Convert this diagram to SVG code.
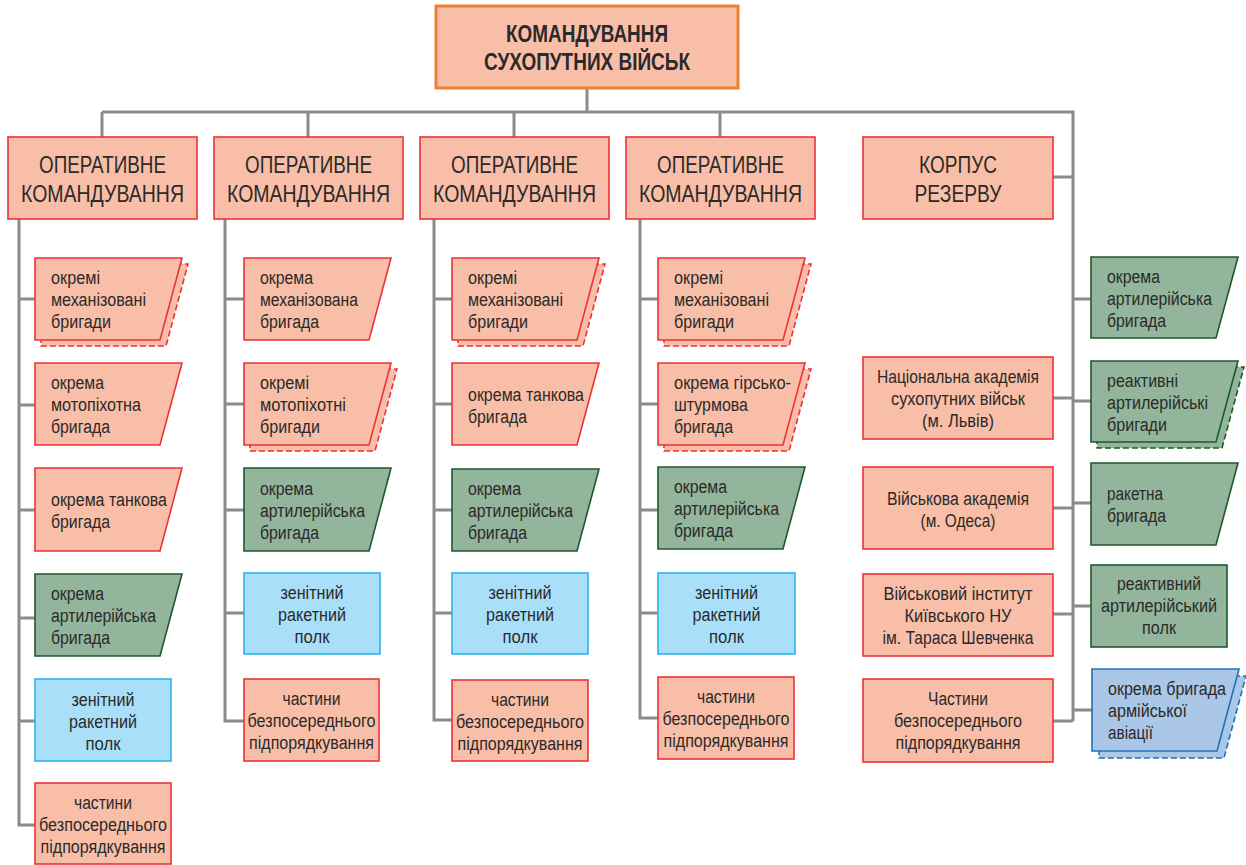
<svg xmlns="http://www.w3.org/2000/svg" width="1246" height="865" viewBox="0 0 1246 865">
<style>
text{font-family:"Liberation Sans Narrow","Liberation Sans",Arial,sans-serif;fill:#2b2a29}
.t{font-size:18px}
.h{font-size:24px;text-anchor:middle}
.ttl{font-size:23px;font-weight:bold;text-anchor:middle}
.c{text-anchor:middle}
.pk{fill:#f9bea7;stroke:#ec3238;stroke-width:1.6}
.pkd{fill:#f9bea7;stroke:#ec3238;stroke-width:1.6;stroke-dasharray:6 3}
.gr{fill:#93b59c;stroke:#1d5a2c;stroke-width:1.6}
.grd{fill:#93b59c;stroke:#1d5a2c;stroke-width:1.6;stroke-dasharray:6 3}
.bl{fill:#aadff9;stroke:#2ab4ea;stroke-width:1.6}
.av{fill:#abc7e8;stroke:#2471b6;stroke-width:1.6}
.avd{fill:#abc7e8;stroke:#2471b6;stroke-width:1.6;stroke-dasharray:6 3}
.top{fill:#f9bea7;stroke:#ec8231;stroke-width:3}
.ln{fill:none;stroke:#8b8b8d;stroke-width:3}
</style>
<g id="connectors" class="ln">
<path d="M587,88V112M102,112H1073V721M102,112V137M308,112V137M514,112V137M720,112V137"/>
<path d="M19,219V825H35M19,299H35M19,405H35M19,510H35M19,618H35M19,721H35"/>
<path d="M225,219V721H244M225,299H244M225,404H244M225,510H244M225,613H244"/>
<path d="M434,219V720H452M434,299H452M434,404H452M434,510H452M434,613H452"/>
<path d="M640,219V718H658M640,299H658M640,404H658M640,510H658M640,613H658"/>
<path d="M1053,177H1073M1053,398H1073M1053,508H1073M1053,614H1073M1053,721H1073"/>
<path d="M1073,299H1091M1073,401H1091M1073,503H1091M1073,606H1091M1073,710H1092"/>
</g>
<g id="top">
<rect class="top" x="436" y="6" width="302" height="82"/>
<text class="ttl" x="587" y="42" textLength="162" lengthAdjust="spacingAndGlyphs">КОМАНДУВАННЯ</text>
<text class="ttl" x="587" y="70" textLength="206" lengthAdjust="spacingAndGlyphs">СУХОПУТНИХ ВІЙСЬК</text>
</g>
<g id="oc1">
<rect class="pk" x="8" y="137" width="189" height="82"/>
<text class="h" x="102.5" y="173" textLength="127" lengthAdjust="spacingAndGlyphs">ОПЕРАТИВНЕ</text>
<text class="h" x="102.5" y="202" textLength="163" lengthAdjust="spacingAndGlyphs">КОМАНДУВАННЯ</text>
</g>
<g id="oc2">
<rect class="pk" x="214" y="137" width="189" height="82"/>
<text class="h" x="308.5" y="173" textLength="127" lengthAdjust="spacingAndGlyphs">ОПЕРАТИВНЕ</text>
<text class="h" x="308.5" y="202" textLength="163" lengthAdjust="spacingAndGlyphs">КОМАНДУВАННЯ</text>
</g>
<g id="oc3">
<rect class="pk" x="420" y="137" width="189" height="82"/>
<text class="h" x="514.5" y="173" textLength="127" lengthAdjust="spacingAndGlyphs">ОПЕРАТИВНЕ</text>
<text class="h" x="514.5" y="202" textLength="163" lengthAdjust="spacingAndGlyphs">КОМАНДУВАННЯ</text>
</g>
<g id="oc4">
<rect class="pk" x="626" y="137" width="189" height="82"/>
<text class="h" x="720.5" y="173" textLength="127" lengthAdjust="spacingAndGlyphs">ОПЕРАТИВНЕ</text>
<text class="h" x="720.5" y="202" textLength="163" lengthAdjust="spacingAndGlyphs">КОМАНДУВАННЯ</text>
</g>
<g id="reserve">
<rect class="pk" x="863" y="137" width="190" height="82"/>
<text class="h" x="958" y="173" textLength="78" lengthAdjust="spacingAndGlyphs">КОРПУС</text>
<text class="h" x="958" y="202" textLength="87" lengthAdjust="spacingAndGlyphs">РЕЗЕРВУ</text>
</g>
<!-- column 1 -->
<g id="c1-mech">
<path class="pkd" d="M41,264H188L166,346H41Z"/>
<path class="pk" d="M35,258H182L160,340H35Z"/>
<text class="t" x="51" y="284" textLength="49" lengthAdjust="spacingAndGlyphs">окремі</text>
<text class="t" x="51" y="306" textLength="95" lengthAdjust="spacingAndGlyphs">механізовані</text>
<text class="t" x="51" y="328" textLength="60" lengthAdjust="spacingAndGlyphs">бригади</text>
</g>
<g id="c1-moto">
<path class="pk" d="M35,363H182L160,445H35Z"/>
<text class="t" x="51" y="389" textLength="53" lengthAdjust="spacingAndGlyphs">окрема</text>
<text class="t" x="51" y="411" textLength="90" lengthAdjust="spacingAndGlyphs">мотопіхотна</text>
<text class="t" x="51" y="433" textLength="59" lengthAdjust="spacingAndGlyphs">бригада</text>
</g>
<g id="c1-tank">
<path class="pk" d="M35,468H182L160,551H35Z"/>
<text class="t" x="51" y="506" textLength="116" lengthAdjust="spacingAndGlyphs">окрема танкова</text>
<text class="t" x="51" y="528" textLength="59" lengthAdjust="spacingAndGlyphs">бригада</text>
</g>
<g id="c1-art">
<path class="gr" d="M35,574H182L160,656H35Z"/>
<text class="t" x="51" y="600" textLength="53" lengthAdjust="spacingAndGlyphs">окрема</text>
<text class="t" x="51" y="622" textLength="105" lengthAdjust="spacingAndGlyphs">артилерійська</text>
<text class="t" x="51" y="644" textLength="59" lengthAdjust="spacingAndGlyphs">бригада</text>
</g>
<g id="c1-zrp">
<rect class="bl" x="35" y="679" width="136" height="82"/>
<text class="t c" x="103" y="706" textLength="63" lengthAdjust="spacingAndGlyphs">зенітний</text>
<text class="t c" x="103" y="728" textLength="68" lengthAdjust="spacingAndGlyphs">ракетний</text>
<text class="t c" x="103" y="750" textLength="35" lengthAdjust="spacingAndGlyphs">полк</text>
</g>
<g id="c1-parts">
<rect class="pk" x="35" y="783" width="136" height="81"/>
<text class="t c" x="103" y="809" textLength="58" lengthAdjust="spacingAndGlyphs">частини</text>
<text class="t c" x="103" y="831" textLength="128" lengthAdjust="spacingAndGlyphs">безпосереднього</text>
<text class="t c" x="103" y="853" textLength="125" lengthAdjust="spacingAndGlyphs">підпорядкування</text>
</g>
<!-- column 2 -->
<g id="c2-mech">
<path class="pk" d="M244,258H391L369,340H244Z"/>
<text class="t" x="260" y="284" textLength="53" lengthAdjust="spacingAndGlyphs">окрема</text>
<text class="t" x="260" y="306" textLength="98" lengthAdjust="spacingAndGlyphs">механізована</text>
<text class="t" x="260" y="328" textLength="59" lengthAdjust="spacingAndGlyphs">бригада</text>
</g>
<g id="c2-moto">
<path class="pkd" d="M250,369H397L375,451H250Z"/>
<path class="pk" d="M244,363H391L369,445H244Z"/>
<text class="t" x="260" y="389" textLength="49" lengthAdjust="spacingAndGlyphs">окремі</text>
<text class="t" x="260" y="411" textLength="86" lengthAdjust="spacingAndGlyphs">мотопіхотні</text>
<text class="t" x="260" y="433" textLength="60" lengthAdjust="spacingAndGlyphs">бригади</text>
</g>
<g id="c2-art">
<path class="gr" d="M244,468H391L369,551H244Z"/>
<text class="t" x="260" y="495" textLength="53" lengthAdjust="spacingAndGlyphs">окрема</text>
<text class="t" x="260" y="517" textLength="105" lengthAdjust="spacingAndGlyphs">артилерійська</text>
<text class="t" x="260" y="539" textLength="59" lengthAdjust="spacingAndGlyphs">бригада</text>
</g>
<g id="c2-zrp">
<rect class="bl" x="244" y="573" width="136" height="81"/>
<text class="t c" x="312" y="599" textLength="63" lengthAdjust="spacingAndGlyphs">зенітний</text>
<text class="t c" x="312" y="621" textLength="68" lengthAdjust="spacingAndGlyphs">ракетний</text>
<text class="t c" x="312" y="643" textLength="35" lengthAdjust="spacingAndGlyphs">полк</text>
</g>
<g id="c2-parts">
<rect class="pk" x="244" y="679" width="135" height="82"/>
<text class="t c" x="311.5" y="705" textLength="58" lengthAdjust="spacingAndGlyphs">частини</text>
<text class="t c" x="311.5" y="727" textLength="128" lengthAdjust="spacingAndGlyphs">безпосереднього</text>
<text class="t c" x="311.5" y="749" textLength="125" lengthAdjust="spacingAndGlyphs">підпорядкування</text>
</g>
<!-- column 3 -->
<g id="c3-mech">
<path class="pkd" d="M458,264H605L583,346H458Z"/>
<path class="pk" d="M452,258H599L577,340H452Z"/>
<text class="t" x="468" y="284" textLength="49" lengthAdjust="spacingAndGlyphs">окремі</text>
<text class="t" x="468" y="306" textLength="95" lengthAdjust="spacingAndGlyphs">механізовані</text>
<text class="t" x="468" y="328" textLength="60" lengthAdjust="spacingAndGlyphs">бригади</text>
</g>
<g id="c3-tank">
<path class="pk" d="M452,363H599L577,445H452Z"/>
<text class="t" x="468" y="401" textLength="116" lengthAdjust="spacingAndGlyphs">окрема танкова</text>
<text class="t" x="468" y="423" textLength="59" lengthAdjust="spacingAndGlyphs">бригада</text>
</g>
<g id="c3-art">
<path class="gr" d="M452,469H599L577,551H452Z"/>
<text class="t" x="468" y="495" textLength="53" lengthAdjust="spacingAndGlyphs">окрема</text>
<text class="t" x="468" y="517" textLength="105" lengthAdjust="spacingAndGlyphs">артилерійська</text>
<text class="t" x="468" y="539" textLength="59" lengthAdjust="spacingAndGlyphs">бригада</text>
</g>
<g id="c3-zrp">
<rect class="bl" x="452" y="573" width="136" height="81"/>
<text class="t c" x="520" y="599" textLength="63" lengthAdjust="spacingAndGlyphs">зенітний</text>
<text class="t c" x="520" y="621" textLength="68" lengthAdjust="spacingAndGlyphs">ракетний</text>
<text class="t c" x="520" y="643" textLength="35" lengthAdjust="spacingAndGlyphs">полк</text>
</g>
<g id="c3-parts">
<rect class="pk" x="452" y="680" width="136" height="81"/>
<text class="t c" x="520" y="706" textLength="58" lengthAdjust="spacingAndGlyphs">частини</text>
<text class="t c" x="520" y="728" textLength="128" lengthAdjust="spacingAndGlyphs">безпосереднього</text>
<text class="t c" x="520" y="750" textLength="125" lengthAdjust="spacingAndGlyphs">підпорядкування</text>
</g>
<!-- column 4 -->
<g id="c4-mech">
<path class="pkd" d="M664,264H811L789,346H664Z"/>
<path class="pk" d="M658,258H805L783,340H658Z"/>
<text class="t" x="674" y="284" textLength="49" lengthAdjust="spacingAndGlyphs">окремі</text>
<text class="t" x="674" y="306" textLength="95" lengthAdjust="spacingAndGlyphs">механізовані</text>
<text class="t" x="674" y="328" textLength="60" lengthAdjust="spacingAndGlyphs">бригади</text>
</g>
<g id="c4-mount">
<path class="pkd" d="M664,369H811L789,451H664Z"/>
<path class="pk" d="M658,363H805L783,445H658Z"/>
<text class="t" x="674" y="389" textLength="117" lengthAdjust="spacingAndGlyphs">окрема гірсько-</text>
<text class="t" x="674" y="411" textLength="74" lengthAdjust="spacingAndGlyphs">штурмова</text>
<text class="t" x="674" y="433" textLength="59" lengthAdjust="spacingAndGlyphs">бригада</text>
</g>
<g id="c4-art">
<path class="gr" d="M658,467H805L783,549H658Z"/>
<text class="t" x="674" y="493" textLength="53" lengthAdjust="spacingAndGlyphs">окрема</text>
<text class="t" x="674" y="515" textLength="105" lengthAdjust="spacingAndGlyphs">артилерійська</text>
<text class="t" x="674" y="537" textLength="59" lengthAdjust="spacingAndGlyphs">бригада</text>
</g>
<g id="c4-zrp">
<rect class="bl" x="658" y="573" width="137" height="81"/>
<text class="t c" x="726.5" y="599" textLength="63" lengthAdjust="spacingAndGlyphs">зенітний</text>
<text class="t c" x="726.5" y="621" textLength="68" lengthAdjust="spacingAndGlyphs">ракетний</text>
<text class="t c" x="726.5" y="643" textLength="35" lengthAdjust="spacingAndGlyphs">полк</text>
</g>
<g id="c4-parts">
<rect class="pk" x="658" y="677" width="136" height="82"/>
<text class="t c" x="726" y="703" textLength="58" lengthAdjust="spacingAndGlyphs">частини</text>
<text class="t c" x="726" y="725" textLength="127" lengthAdjust="spacingAndGlyphs">безпосереднього</text>
<text class="t c" x="726" y="747" textLength="125" lengthAdjust="spacingAndGlyphs">підпорядкування</text>
</g>
<!-- right side, left boxes -->
<g id="acad-lviv">
<rect class="pk" x="863" y="357" width="190" height="82"/>
<text class="t c" x="958" y="383" textLength="162" lengthAdjust="spacingAndGlyphs">Національна академія</text>
<text class="t c" x="958" y="405" textLength="134" lengthAdjust="spacingAndGlyphs">сухопутних військ</text>
<text class="t c" x="958" y="427" textLength="72" lengthAdjust="spacingAndGlyphs">(м. Львів)</text>
</g>
<g id="acad-odesa">
<rect class="pk" x="863" y="467" width="190" height="82"/>
<text class="t c" x="958" y="505" textLength="142" lengthAdjust="spacingAndGlyphs">Військова академія</text>
<text class="t c" x="958" y="527" textLength="75" lengthAdjust="spacingAndGlyphs">(м. Одеса)</text>
</g>
<g id="inst-kyiv">
<rect class="pk" x="863" y="574" width="190" height="82"/>
<text class="t c" x="958" y="600" textLength="149" lengthAdjust="spacingAndGlyphs">Військовий інститут</text>
<text class="t c" x="958" y="622" textLength="107" lengthAdjust="spacingAndGlyphs">Київського НУ</text>
<text class="t c" x="958" y="644" textLength="151" lengthAdjust="spacingAndGlyphs">ім. Тараса Шевченка</text>
</g>
<g id="r-parts">
<rect class="pk" x="863" y="679" width="190" height="83"/>
<text class="t c" x="958" y="705" textLength="60" lengthAdjust="spacingAndGlyphs">Частини</text>
<text class="t c" x="958" y="727" textLength="128" lengthAdjust="spacingAndGlyphs">безпосереднього</text>
<text class="t c" x="958" y="749" textLength="125" lengthAdjust="spacingAndGlyphs">підпорядкування</text>
</g>
<!-- right side, right boxes -->
<g id="r-art">
<path class="gr" d="M1091,257H1238L1216,338H1091Z"/>
<text class="t" x="1107" y="283" textLength="53" lengthAdjust="spacingAndGlyphs">окрема</text>
<text class="t" x="1107" y="305" textLength="105" lengthAdjust="spacingAndGlyphs">артилерійська</text>
<text class="t" x="1107" y="327" textLength="59" lengthAdjust="spacingAndGlyphs">бригада</text>
</g>
<g id="r-mlrs">
<path class="grd" d="M1097,367H1244L1222,448H1097Z"/>
<path class="gr" d="M1091,361H1238L1216,442H1091Z"/>
<text class="t" x="1107" y="387" textLength="71" lengthAdjust="spacingAndGlyphs">реактивні</text>
<text class="t" x="1107" y="409" textLength="101" lengthAdjust="spacingAndGlyphs">артилерійські</text>
<text class="t" x="1107" y="431" textLength="60" lengthAdjust="spacingAndGlyphs">бригади</text>
</g>
<g id="r-missile">
<path class="gr" d="M1091,463H1238L1216,545H1091Z"/>
<text class="t" x="1107" y="500" textLength="56" lengthAdjust="spacingAndGlyphs">ракетна</text>
<text class="t" x="1107" y="522" textLength="59" lengthAdjust="spacingAndGlyphs">бригада</text>
</g>
<g id="r-mlrs-reg">
<rect class="gr" x="1091" y="565" width="136" height="82"/>
<text class="t c" x="1159" y="590" textLength="84" lengthAdjust="spacingAndGlyphs">реактивний</text>
<text class="t c" x="1159" y="612" textLength="116" lengthAdjust="spacingAndGlyphs">артилерійський</text>
<text class="t c" x="1159" y="634" textLength="34" lengthAdjust="spacingAndGlyphs">полк</text>
</g>
<g id="r-aviation">
<path class="avd" d="M1099,676H1246L1224,758H1099Z"/>
<path class="av" d="M1092,669H1239L1217,751H1092Z"/>
<text class="t" x="1108" y="695" textLength="118" lengthAdjust="spacingAndGlyphs">окрема бригада</text>
<text class="t" x="1108" y="717" textLength="79" lengthAdjust="spacingAndGlyphs">армійської</text>
<text class="t" x="1108" y="739" textLength="45" lengthAdjust="spacingAndGlyphs">авіації</text>
</g>
</svg>
